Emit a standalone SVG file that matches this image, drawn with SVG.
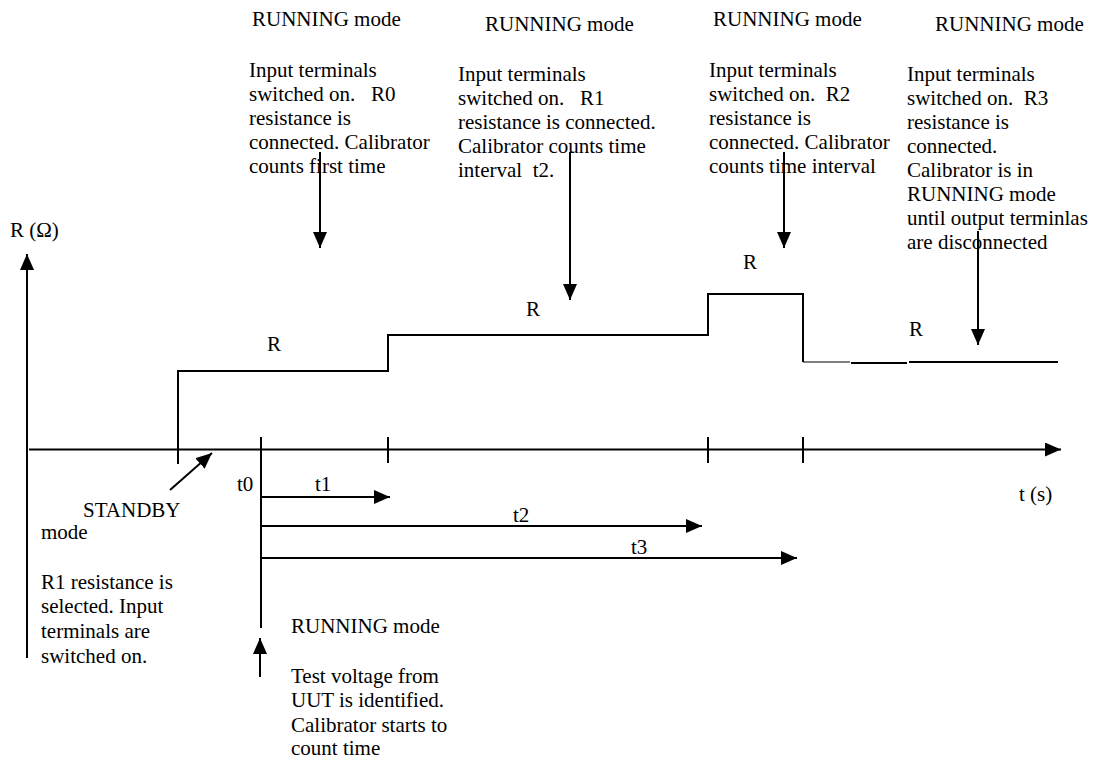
<svg xmlns="http://www.w3.org/2000/svg" width="1095" height="760" viewBox="0 0 1095 760">
<style>
text{font-family:"Liberation Serif","Times New Roman","DejaVu Serif",serif;font-size:21px;fill:#000;white-space:pre}
.ln{stroke:#000;stroke-width:2;fill:none}
.thin{stroke:#000;stroke-width:1.2;fill:none}
</style>
<defs>
<marker id="ah" markerWidth="16" markerHeight="14" refX="16" refY="7" orient="auto" markerUnits="userSpaceOnUse">
<path d="M0,0 L16,7 L0,14 Z" fill="#000"/>
</marker>
</defs>
<rect width="1095" height="760" fill="#fff"/>

<g id="axes">
<line class="ln" x1="27" y1="658" x2="27" y2="254" marker-end="url(#ah)"/>
<line class="ln" x1="29" y1="449.5" x2="1061" y2="449.5" marker-end="url(#ah)"/>
<text x="10" y="237">R (Ω)</text>
<text x="1019" y="501">t (s)</text>
<line class="ln" x1="178" y1="437" x2="178" y2="464"/>
<line class="ln" x1="261" y1="437" x2="261" y2="628"/>
<line class="ln" x1="388" y1="437" x2="388" y2="463"/>
<line class="ln" x1="708" y1="437" x2="708" y2="463"/>
<line class="ln" x1="803" y1="437" x2="803" y2="463"/>
</g>

<g id="resistance-curve">
<polyline class="ln" points="178,449 178,371 388,371 388,335 708,335 708,294 803,294 803,362"/>
<line class="thin" x1="803" y1="362" x2="850" y2="362"/>
<line class="ln" x1="851" y1="363" x2="907" y2="363"/>
<line class="ln" x1="909" y1="362" x2="1058" y2="362"/>
<text x="267" y="351" font-size="22">R</text>
<text x="526" y="316" font-size="22">R</text>
<text x="743" y="269" font-size="22">R</text>
<text x="909" y="336" font-size="22">R</text>
</g>

<g id="node-r0">
<text x="252" y="26">RUNNING mode</text>
<text x="249" y="77">Input terminals</text>
<text x="249" y="101" xml:space="preserve">switched on.   R0</text>
<text x="249" y="125">resistance is</text>
<text x="249" y="149">connected. Calibrator</text>
<text x="249" y="173">counts first time</text>
</g>

<g id="node-r1">
<text x="485" y="31">RUNNING mode</text>
<text x="458" y="81">Input terminals</text>
<text x="458" y="105" xml:space="preserve">switched on.   R1</text>
<text x="458" y="129">resistance is connected.</text>
<text x="458" y="153">Calibrator counts time</text>
<text x="458" y="177" xml:space="preserve">interval  t2.</text>
</g>

<g id="node-r2">
<text x="713" y="26">RUNNING mode</text>
<text x="709" y="77">Input terminals</text>
<text x="709" y="101" xml:space="preserve">switched on.  R2</text>
<text x="709" y="125">resistance is</text>
<text x="709" y="149">connected. Calibrator</text>
<text x="709" y="173">counts time interval</text>
</g>

<g id="node-r3">
<text x="935" y="31">RUNNING mode</text>
<text x="907" y="81">Input terminals</text>
<text x="907" y="105" xml:space="preserve">switched on.  R3</text>
<text x="907" y="129">resistance is</text>
<text x="907" y="153">connected.</text>
<text x="907" y="177">Calibrator is in</text>
<text x="907" y="201">RUNNING mode</text>
<text x="907" y="225">until output terminlas</text>
<text x="907" y="249">are disconnected</text>
</g>

<g id="node-standby">
<text x="83" y="517">STANDBY</text>
<text x="41" y="539">mode</text>
<text x="41" y="589">R1 resistance is</text>
<text x="41" y="613">selected. Input</text>
<text x="41" y="638">terminals are</text>
<text x="41" y="663">switched on.</text>
</g>

<g id="node-start">
<text x="291" y="633">RUNNING mode</text>
<text x="291" y="683">Test voltage from</text>
<text x="291" y="707">UUT is identified.</text>
<text x="291" y="732">Calibrator starts to</text>
<text x="291" y="755">count time</text>
</g>

<g id="time-labels">
<text x="237" y="491">t0</text>
<text x="315" y="491">t1</text>
<text x="513" y="522">t2</text>
<text x="631" y="554">t3</text>
</g>

<g id="connectors">
<line class="ln" x1="320" y1="152" x2="320" y2="248" marker-end="url(#ah)"/>
<line class="ln" x1="570" y1="152" x2="570" y2="300" marker-end="url(#ah)"/>
<line class="ln" x1="784" y1="152" x2="784" y2="248" marker-end="url(#ah)"/>
<line class="ln" x1="978" y1="231" x2="978" y2="345" marker-end="url(#ah)"/>
<line class="ln" x1="170" y1="490" x2="212" y2="453" marker-end="url(#ah)"/>
<line class="ln" x1="260" y1="677" x2="260" y2="638" marker-end="url(#ah)"/>
<line class="ln" x1="261" y1="497" x2="390" y2="497" marker-end="url(#ah)"/>
<line class="ln" x1="261" y1="526" x2="702" y2="526" marker-end="url(#ah)"/>
<line class="ln" x1="261" y1="558" x2="797" y2="558" marker-end="url(#ah)"/>
</g>
</svg>
